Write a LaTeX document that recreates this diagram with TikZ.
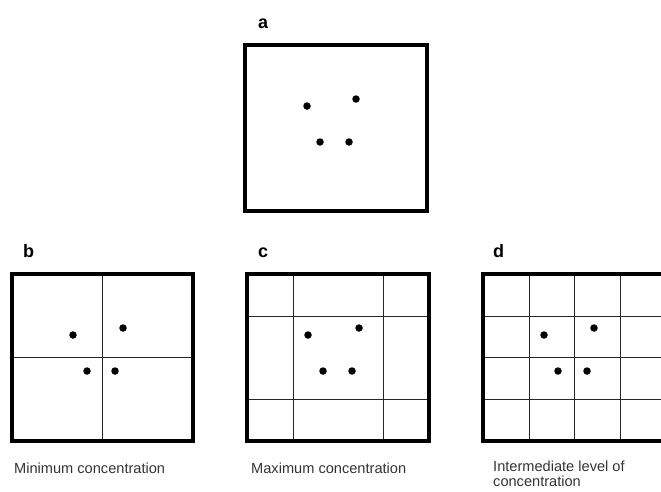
\documentclass[tikz,border=0pt]{standalone}
\usepackage{fontspec}
\setmainfont{Liberation Sans}
\begin{document}
\begin{tikzpicture}[x=1pt,y=-1pt,
  frame/.style={line width=3.2pt, line join=miter},
  gridline/.style={line width=1pt, black!85},
  dot/.style={circle, fill=black, inner sep=0pt, minimum size=7.5pt},
  panel/.style={font=\fontsize{18}{21}\selectfont\bfseries, inner sep=0pt, anchor=base west},
  caption/.style={font=\fontsize{14.6}{17}\selectfont, text=black!80, inner sep=0pt, align=left}]
\useasboundingbox (0,0) rectangle (661,491);
% panel a
\node[panel] (la) at (258,28) {a};
\draw[frame] (245,45) rectangle (427,211);
\node[dot] (a1) at (307,106) {};
\node[dot] (a2) at (356,99) {};
\node[dot] (a3) at (320,142) {};
\node[dot] (a4) at (349,142) {};
% panel b
\node[panel] (lb) at (23,257) {b};
\draw[gridline] (102,274) -- (102,441) (12,357) -- (193,357);
\draw[frame] (12,274) rectangle (193,441);
\node[dot] (b1) at (73,335) {};
\node[dot] (b2) at (123,328) {};
\node[dot] (b3) at (87,371) {};
\node[dot] (b4) at (115,371) {};
\node[caption, anchor=base west] (cb) at (14,473) {Minimum concentration};
% panel c
\node[panel] (lc) at (258,257) {c};
\draw[gridline] (293,274) -- (293,441) (383,274) -- (383,441)
  (247,316) -- (429,316) (247,399) -- (429,399);
\draw[frame] (247,274) rectangle (429,441);
\node[dot] (c1) at (308,335) {};
\node[dot] (c2) at (359,328) {};
\node[dot] (c3) at (323,371) {};
\node[dot] (c4) at (352,371) {};
\node[caption, anchor=base west] (cc) at (251,473) {Maximum concentration};
% panel d
\node[panel] (ld) at (493,257) {d};
\draw[gridline] (529,274) -- (529,441) (574,274) -- (574,441) (620,274) -- (620,441)
  (483,316) -- (661,316) (483,357) -- (661,357) (483,399) -- (661,399);
\draw[frame] (662,274) -- (483,274) -- (483,441) -- (662,441);
\node[dot] (d1) at (544,335) {};
\node[dot] (d2) at (594,328) {};
\node[dot] (d3) at (558,371) {};
\node[dot] (d4) at (587,371) {};
\node[caption, anchor=north west] (cd) at (493,461) {Intermediate level of\\[-2pt]concentration};
\end{tikzpicture}
\end{document}
